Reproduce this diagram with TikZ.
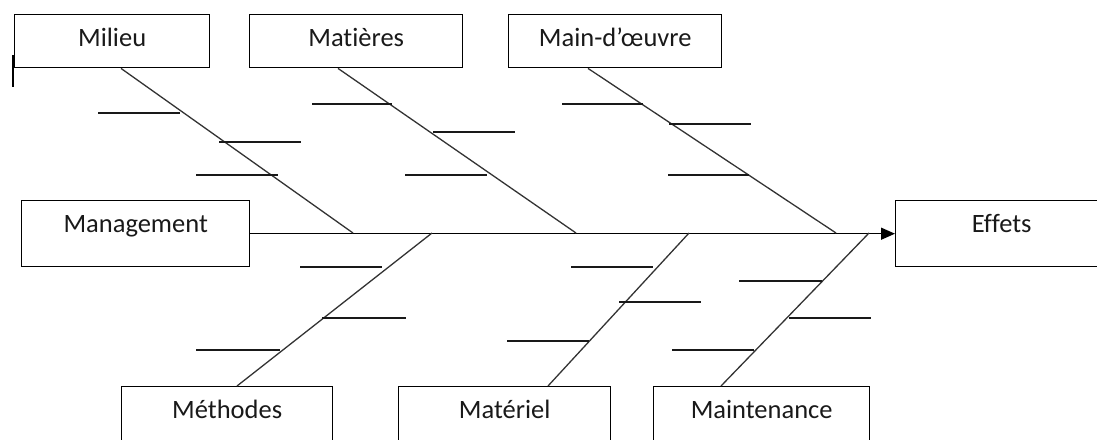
\documentclass[tikz,border=0pt]{standalone}
\usepackage{fontspec}
\setmainfont{Carlito}[Ligatures=NoCommon]
\usetikzlibrary{arrows.meta}
\begin{document}
\begin{tikzpicture}[x=1pt,y=-1pt,
  cause/.style={draw=black, line width=1.4pt, inner sep=0pt, anchor=north west,
    text height=32pt, font=\fontsize{26.5}{30}\selectfont, text=black!90},
  topbox/.style={cause, text depth=21pt},
  midbox/.style={cause, text depth=34pt},
  bone/.style={line width=1.3pt, draw=black!80},
  rib/.style={line width=1.3pt, draw=black!90},
  spine/.style={line width=1.4pt, draw=black, -{Triangle[length=14pt,width=12pt]}},
]
\useasboundingbox (0,0) rectangle (1097,439);
\begin{scope}
\clip (0,0) rectangle (1097,439);

% cause and effect boxes
\node[topbox, minimum width=195pt] (milieu)   at (14,14)  {Milieu};
\node[topbox, minimum width=213pt] (matieres) at (249,14) {Matières};
\node[topbox, minimum width=213pt] (mo)       at (508,14) {Main-d’œuvre};
\node[midbox, minimum width=228pt] (mgmt)     at (21,200) {Management};
\node[midbox, minimum width=212pt] (effets)   at (895,200) {Effets};
\node[midbox, minimum width=211pt] (methodes) at (121,386) {Méthodes};
\node[midbox, minimum width=212pt] (materiel) at (398,386) {Matériel};
\node[midbox, minimum width=216pt] (maint)    at (653,386) {Maintenance};

% small mark at the left edge
\draw[line width=2.6pt] (13,55) -- (13,87);

% junctions on the spine
\coordinate (jA) at (353,233);
\coordinate (jB) at (576,233);
\coordinate (jC) at (836,233);
\coordinate (jD) at (432,233);
\coordinate (jE) at (689,233);
\coordinate (jF) at (869,233);

% spine
\draw[spine] (mgmt.east) -- (effets.west);

% main bones
\draw[bone] (milieu.south -| 121,0) -- (jA);
\draw[bone] (matieres.south -| 338,0) -- (jB);
\draw[bone] (mo.south -| 588,0) -- (jC);
\draw[bone] (methodes.north -| 237,0) -- (jD);
\draw[bone] (materiel.north -| 548,0) -- (jE);
\draw[bone] (maint.north -| 721,0) -- (jF);

% ribs
\draw[rib] (98,113) -- (180,113);
\draw[rib] (219,142) -- (301,142);
\draw[rib] (196,175) -- (278,175);

\draw[rib] (312,104) -- (392,104);
\draw[rib] (433,132) -- (515,132);
\draw[rib] (405,175) -- (487,175);

\draw[rib] (562,104) -- (643,104);
\draw[rib] (669,124) -- (751,124);
\draw[rib] (668,175) -- (749,175);

\draw[rib] (300,267) -- (382,267);
\draw[rib] (322,318) -- (406,318);
\draw[rib] (196,350) -- (280,350);

\draw[rib] (571,267) -- (653,267);
\draw[rib] (619,302) -- (701,302);
\draw[rib] (507,341) -- (589,341);

\draw[rib] (739,281) -- (822,281);
\draw[rib] (789,318) -- (871,318);
\draw[rib] (672,350) -- (754,350);
\end{scope}
\end{tikzpicture}
\end{document}
